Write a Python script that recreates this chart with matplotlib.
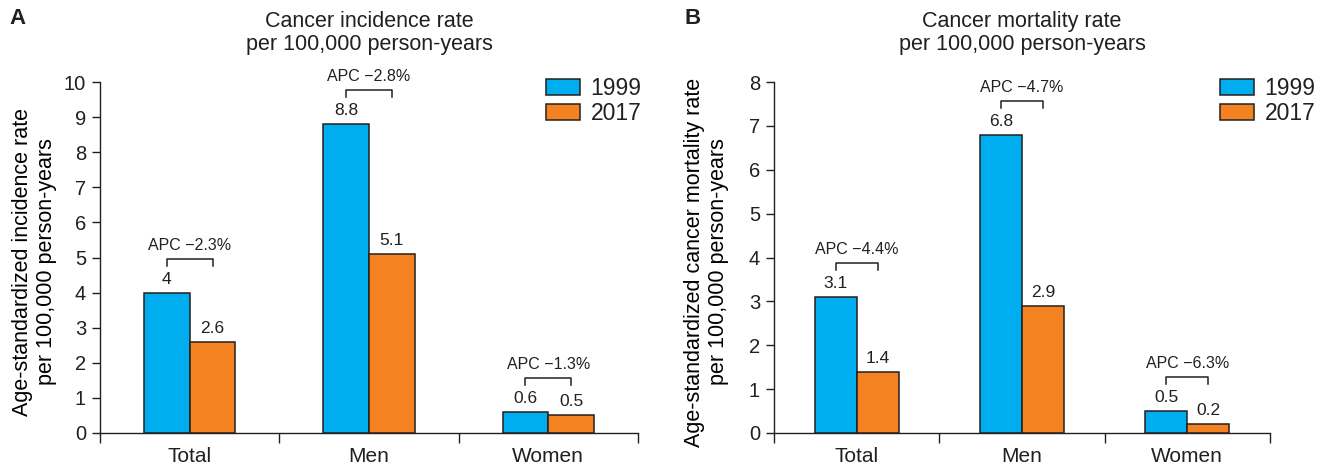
import numpy as np
import matplotlib
matplotlib.use('Agg')
import matplotlib.pyplot as plt
from matplotlib.patches import Patch

plt.rcParams['font.family'] = ['Liberation Sans', 'DejaVu Sans']
plt.rcParams['text.color'] = '#231f20'
plt.rcParams['axes.edgecolor'] = '#231f20'
plt.rcParams['xtick.color'] = '#231f20'
plt.rcParams['ytick.color'] = '#231f20'

groups = ['Total', 'Men', 'Women']
years = ['1999', '2017']

inc_1999 = [4, 8.8, 0.6]
inc_2017 = [2.6, 5.1, 0.5]
inc_apc = ['\u22122.3%', '\u22122.8%', '\u22121.3%']

mort_1999 = [3.1, 6.8, 0.5]
mort_2017 = [1.4, 2.9, 0.2]
mort_apc = ['\u22124.4%', '\u22124.7%', '\u22126.3%']

blue = '#00aeef'
orange = '#f58220'
edge = '#231f20'

fig = plt.figure(figsize=(13.25, 4.67), dpi=100)
W, H = 1325, 467

axA = fig.add_axes([100 / W, 1 - 433 / H, 538 / W, 351 / H])
axB = fig.add_axes([774 / W, 1 - 433 / H, 496 / W, 351 / H])


def draw(ax, v1, v2, apc, ymax, title, ylabel, letter, lx, ylab_x, leg_x):
    x = np.arange(len(groups)) + 0.5
    w = 0.255
    ax.bar(x - w / 2, v1, w, color=blue, edgecolor=edge, linewidth=1.1, zorder=3)
    ax.bar(x + w / 2, v2, w, color=orange, edgecolor=edge, linewidth=1.1, zorder=3)

    px = ymax / 351.0  # data units per pixel
    for i in range(len(groups)):
        ax.text(x[i] - w / 2, v1[i] + 6 * px, f'{v1[i]:g}', ha='center', va='bottom', fontsize=12.5)
        ax.text(x[i] + w / 2, v2[i] + 6 * px, f'{v2[i]:g}', ha='center', va='bottom', fontsize=12.5)
        top = max(v1[i], v2[i]) + 34 * px
        ax.plot([x[i] - w / 2, x[i] - w / 2, x[i] + w / 2, x[i] + w / 2],
                [top - 7 * px, top, top, top - 7 * px], color=edge, lw=1.1, clip_on=False)
        ax.text(x[i], top + 6 * px, 'APC ' + apc[i], ha='center', va='bottom', fontsize=11.5)

    ax.set_xlim(0, 3)
    ax.set_ylim(0, ymax)
    ax.set_yticks(np.arange(0, ymax + 1, 1))
    ax.tick_params(axis='y', labelsize=14.5, length=6, width=1, direction='out', pad=4)
    ax.set_xticks([0, 1, 2, 3])
    ax.set_xticklabels([])
    ax.tick_params(axis='x', which='major', length=7, width=1, direction='out')
    ax.set_xticks(x, minor=True)
    ax.set_xticklabels(groups, minor=True)
    ax.tick_params(axis='x', which='minor', length=0, labelsize=15, pad=10)
    for s in ['top', 'right']:
        ax.spines[s].set_visible(False)
    for s in ['left', 'bottom']:
        ax.spines[s].set_linewidth(1)

    ax.set_ylabel(ylabel, fontsize=15.5, linespacing=1.2)
    ax.yaxis.set_label_coords(ylab_x / W, 1 - 262 / H, transform=fig.transFigure)

    cx = (ax.get_position().x0 + ax.get_position().x1) / 2
    fig.text(cx, 1 - 33 / H, title, ha='center', va='center', fontsize=15.5, linespacing=1.1)
    fig.text(lx / W, 1 - 19 / H, letter, ha='left', va='center', fontsize=16, fontweight='bold')

    handles = [Patch(facecolor=blue, edgecolor=edge, linewidth=1.1),
               Patch(facecolor=orange, edgecolor=edge, linewidth=1.1)]
    fig.legend(handles, years, loc='upper left', bbox_to_anchor=(leg_x / W, 1 - 77 / H),
               frameon=False, fontsize=16.5, handlelength=1.5, handleheight=0.7,
               handletextpad=0.45, labelspacing=0.1, borderpad=0, borderaxespad=0)


draw(axA, inc_1999, inc_2017, inc_apc, 10,
     'Cancer incidence rate\nper 100,000 person-years',
     'Age-standardized incidence rate\nper 100,000 person-years', 'A', 9, 57, 546)
draw(axB, mort_1999, mort_2017, mort_apc, 8,
     'Cancer mortality rate\nper 100,000 person-years',
     'Age-standardized cancer mortality rate\nper 100,000 person-years', 'B', 684, 729, 1220)

fig.savefig('out.png', dpi=100)
